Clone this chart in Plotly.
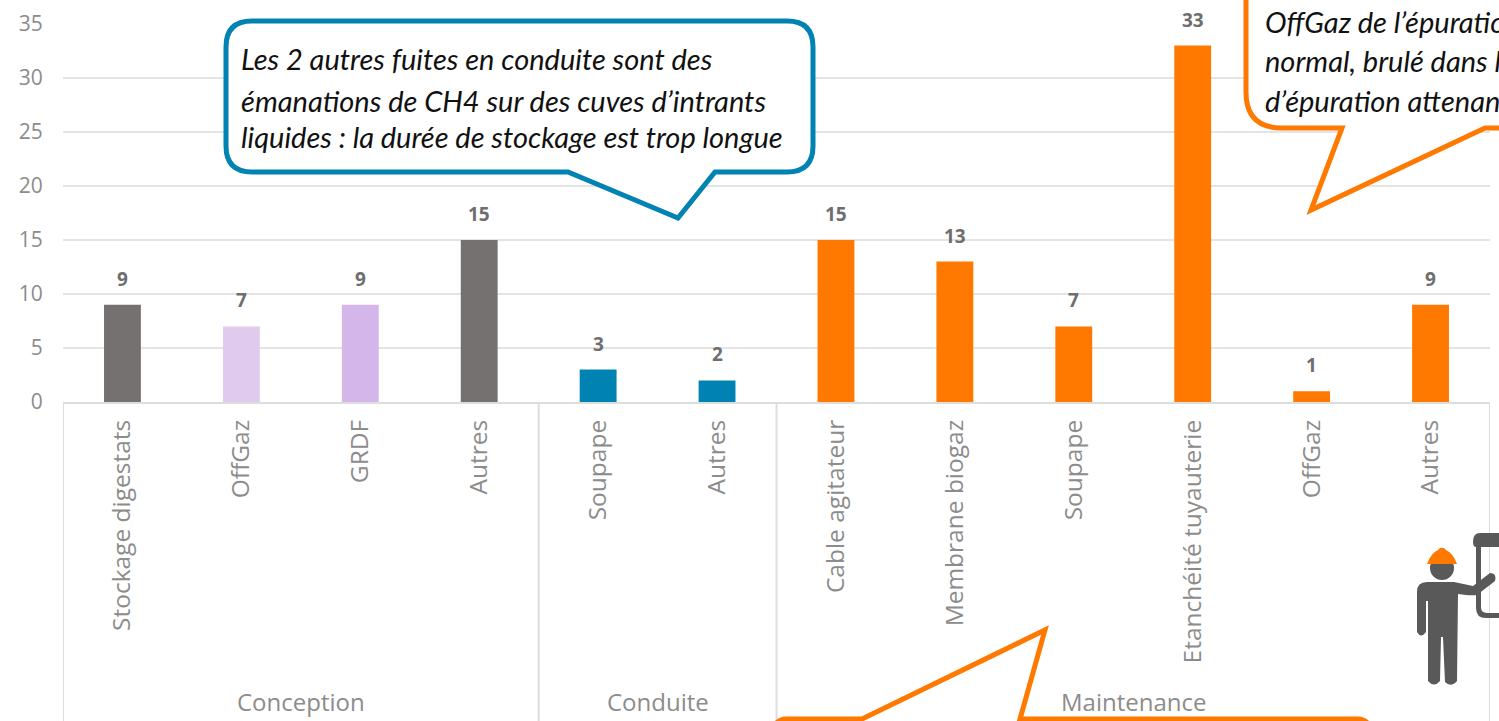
import plotly.graph_objects as go

W, H = 1499, 721
LEFT, RIGHT, TOP, BOTTOM = 63, 1490, 24, 402
categories = ["Stockage digestats", "OffGaz", "GRDF", "Autres", "Soupape", "Autres",
              "Cable agitateur", "Membrane biogaz", "Soupape", "Etanchéité tuyauterie", "OffGaz", "Autres"]
values = [9, 7, 9, 15, 3, 2, 15, 13, 7, 33, 1, 9]
colors = ["#767171", "#E0CBEF", "#D4B6EA", "#767171", "#0083B3", "#0083B3",
          "#FF7900", "#FF7900", "#FF7900", "#FF7900", "#FF7900", "#FF7900"]
groups = ["Conception", "Conduite", "Maintenance"]
group_centers = [1.5, 4.5, 8.5]
group_edges = [-0.5, 3.5, 5.5, 11.5]
positions = list(range(len(categories)))

ORANGE = "#FF7900"
BLUE = "#0083B3"
GRAY = "#595959"
TXT = "#8C8C8C"
LABEL_FONT = "Open Sans"
NOTE_FONT = "Lato"


def px(x):
    return (x - LEFT) / (RIGHT - LEFT)


def py(y):
    return (BOTTOM - y) / (BOTTOM - TOP)


def path(points):
    out = []
    for cmd in points:
        c = cmd[0]
        nums = cmd[1:]
        coords = []
        for i in range(0, len(nums), 2):
            coords.append(f"{px(nums[i]):.5f},{py(nums[i + 1]):.5f}")
        out.append(c + " " + " ".join(coords))
    return " ".join(out)


def pshape(cmds, line=None, lw=0, fill=None):
    d = dict(type="path", xref="paper", yref="paper", layer="above", path=path(cmds))
    d["line"] = dict(color=line or "rgba(0,0,0,0)", width=lw)
    if fill:
        d["fillcolor"] = fill
    return d


fig = go.Figure(go.Bar(
    x=positions, y=values, width=0.31, marker=dict(color=colors, line=dict(width=0)),
    hoverinfo="skip",
))

shapes = []
for e in group_edges:
    shapes.append(dict(type="line", xref="x", yref="paper", x0=e, x1=e, y0=py(402), y1=py(721),
                       line=dict(color="#DDDDDD", width=2), layer="below"))

shapes.append(pshape([
    ("M", 252, 21), ("L", 787, 21), ("Q", 813, 21, 813, 47), ("L", 813, 146), ("Q", 813, 172, 787, 172),
    ("L", 715, 172), ("L", 678, 218), ("L", 568, 172), ("L", 252, 172), ("Q", 226, 172, 226, 146),
    ("L", 226, 47), ("Q", 226, 21, 252, 21), ("Z",)], BLUE, 5, "white"))
shapes.append(pshape([
    ("M", 1246, -20), ("L", 1246, 92), ("Q", 1246, 128, 1282, 128), ("L", 1342, 128), ("L", 1311, 210),
    ("L", 1485, 128), ("L", 1530, 128), ("L", 1530, -20), ("Z",)], ORANGE, 5, "white"))
shapes.append(pshape([
    ("M", 768, 760), ("Q", 768, 719, 786, 719), ("L", 862, 719), ("L", 1045, 630), ("L", 1020, 719),
    ("L", 1358, 719), ("Q", 1376, 719, 1376, 760), ("Z",)], ORANGE, 5, "white"))

shapes.append(pshape([("M", 1477, 537), ("L", 1499, 537), ("L", 1499, 547), ("L", 1481, 547), ("L", 1481, 607),
                      ("Q", 1481, 613, 1487, 613), ("L", 1499, 613), ("L", 1499, 618), ("L", 1486, 618),
                      ("Q", 1476, 618, 1476, 608), ("L", 1476, 547), ("Q", 1473, 547, 1473, 542),
                      ("Q", 1473, 533, 1480, 533), ("L", 1499, 533), ("L", 1499, 537), ("Z",)], None, 0, GRAY))
shapes.append(dict(type="circle", xref="paper", yref="paper", layer="above", x0=px(1430), x1=px(1454),
                   y0=py(580), y1=py(556), fillcolor=GRAY, line=dict(width=0)))
shapes.append(pshape([("M", 1427, 582), ("L", 1454, 582), ("L", 1473, 586), ("L", 1490, 573), ("Q", 1497, 573, 1495, 581),
                      ("L", 1477, 595), ("Q", 1471, 596, 1458, 594), ("L", 1457, 681), ("Q", 1451, 688, 1445, 682),
                      ("L", 1443, 637), ("L", 1441, 637), ("L", 1440, 681), ("Q", 1434, 688, 1428, 681),
                      ("L", 1428, 601), ("L", 1426, 601), ("L", 1426, 632), ("Q", 1421, 639, 1417, 632),
                      ("L", 1417, 592), ("Q", 1417, 582, 1427, 582), ("Z",)], None, 0, GRAY))
shapes.append(pshape([("M", 1427, 564), ("Q", 1431, 553, 1438, 550), ("L", 1440, 548), ("L", 1444, 548), ("L", 1446, 550),
                      ("Q", 1453, 553, 1457, 564), ("Z",)], None, 0, ORANGE))

annotations = []
for xv, v in zip(positions, values):
    annotations.append(dict(x=xv, y=v, xref="x", yref="y", text=str(v), showarrow=False,
                            xanchor="center", yanchor="middle", yshift=26,
                            font=dict(family=LABEL_FONT, size=19, color="#6E6E6E", weight="bold")))
for name, c in zip(groups, group_centers):
    annotations.append(dict(x=c, y=py(702), xref="x", yref="paper", text=name, showarrow=False,
                            xanchor="center", yanchor="middle",
                            font=dict(family=LABEL_FONT, size=24, color=TXT)))


def note(x, y, text):
    annotations.append(dict(x=px(x), y=py(y), xref="paper", yref="paper", text=text, showarrow=False,
                            xanchor="left", yanchor="middle", align="left",
                            font=dict(family=NOTE_FONT, size=29, color="#111111", style="italic")))


note(239, 58, "Les 2 autres fuites en conduite sont des")
note(239, 100, "émanations de CH4 sur des cuves d’intrants")
note(239, 136, "liquides : la durée de stockage est trop longue")
note(1263, 21, "OffGaz de l’épuration")
note(1263, 60, "normal, brulé dans la")
note(1263, 100, "d’épuration attenante")

fig.update_layout(
    width=W, height=H, autosize=False, showlegend=False,
    margin=dict(l=LEFT, r=W - RIGHT, t=TOP, b=H - BOTTOM, pad=0),
    paper_bgcolor="white", plot_bgcolor="white",
    shapes=shapes, annotations=annotations,
    xaxis=dict(range=[-0.5, 11.5], tickmode="array", tickvals=positions, ticktext=categories, tickangle=-90,
               ticks="outside", ticklen=6, tickcolor="rgba(0,0,0,0)", showgrid=False,
               showline=True, linecolor="#DDDDDD", linewidth=2, zeroline=False,
               tickfont=dict(family=LABEL_FONT, size=24.5, color=TXT)),
    yaxis=dict(range=[0, 35], tickmode="array", tickvals=[0, 5, 10, 15, 20, 25, 30, 35],
               ticks="outside", ticklen=15, tickcolor="rgba(0,0,0,0)", gridcolor="#E4E4E4", gridwidth=2,
               zeroline=False, showline=False,
               tickfont=dict(family=LABEL_FONT, size=21, color=TXT)),
)

fig.write_html("out.html", config=dict(displayModeBar=False),
               post_script="document.body.style.margin='0';document.body.style.overflow='hidden';")
